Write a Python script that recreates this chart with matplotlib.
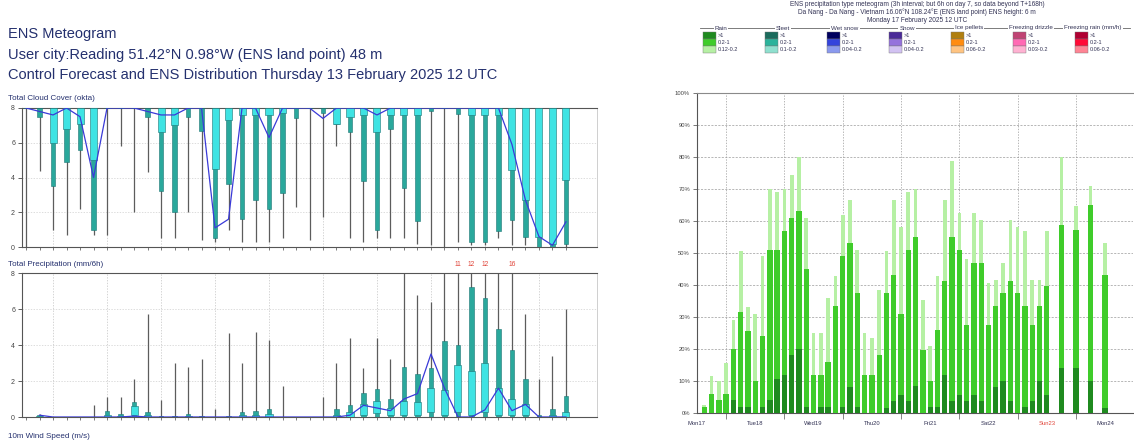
import numpy as np
import matplotlib
matplotlib.use('Agg')
import matplotlib.pyplot as plt
import matplotlib.transforms as mtransforms
from matplotlib.patches import Rectangle
from matplotlib.lines import Line2D

plt.rcParams['font.family'] = ['Liberation Sans', 'DejaVu Sans']

W, H = 1134, 446

# Left meteogram: 6-hourly steps from Thu 13 Feb 12 UTC (k = 0..40).
cc_steps = list(range(41))
cc_ctrl = [8, 7.8, 7.6, 8, 7.5, 4.0, 8, 8, 8, 7.8, 7.6, 7.6, 8, 8, 1.1, 1.6, 8, 8, 6.3, 8, 8,
           8, 7.4, 8, 8, 8, 7.6, 8, 8, 8, 8, 8, 8, 8, 8, 8, 5.9, 2.7, 0.6, 0.1, 1.45]
cc_min = [0, 4.4, 1.0, 0.7, 2.2, 0.7, 0.7, 5.8, 2.0, 4.3, 0.5, 0.5, 2.0, 0.4, 0.3, 1.0, 0.3, 0.3, 0.3, 0.5, 2.3,
          0.4, 1.7, 5.8, 0.5, 0.3, 0.5, 0.5, 0.5, 0.2, 0.1, 0.0, 0.3, 0.1, 0.1, 0.5, 0.1, 0.1, 0.0, 0.0, 0.0]
cc_p10 = [8, 7.5, 3.5, 4.9, 5.6, 1.0, 8, 8, 8, 7.5, 3.2, 2.0, 7.5, 6.7, 0.5, 3.6, 1.6, 2.7, 2.2, 3.1, 7.4,
          8, 7.7, 7.1, 6.6, 3.8, 1.0, 6.8, 3.4, 1.5, 7.85, 8, 7.65, 0.3, 0.3, 0.9, 1.55, 0.55, 0.0, 0.0, 0.2]
cc_p25 = [8, 8, 6.0, 6.8, 7.1, 5.0, 8, 8, 8, 8, 6.6, 7.0, 8, 8, 4.5, 7.3, 7.6, 7.6, 7.6, 7.7, 8,
          8, 8, 7.1, 7.5, 7.6, 6.6, 7.6, 7.6, 7.6, 8, 8, 8, 7.6, 7.6, 7.6, 4.45, 2.7, 0.6, 0.2, 3.85]
cc_max = [8, 8, 8, 8, 8, 8, 8, 8, 8, 8, 8, 8, 8, 8, 8, 8, 8, 8, 8, 8, 8,
          8, 8, 8, 8, 8, 8, 8, 8, 8, 8, 8, 8, 8, 8, 8, 8, 8, 8, 8, 8]

# 6h precipitation, steps k = 1..40
pr_steps = list(range(1, 41))
pr_max = [0.15, 0, 0, 0, 0.65, 1.1, 1.1, 2.1, 5.7, 0.95, 3.0, 2.8, 3.2, 0.45, 4.65, 3.0, 4.7, 4.3, 1.7, 0,
          0, 1.1, 3.0, 4.4, 2.7, 4.4, 3.2, 8.0, 6.8, 6.4, 8.0, 11, 12, 12, 8.0, 16, 5.7, 2.1, 3.4, 6.0]
pr_p90 = [0.1, 0, 0, 0, 0, 0.35, 0.15, 0.85, 0.3, 0.05, 0.05, 0.15, 0.05, 0, 0.05, 0.3, 0.35, 0.45, 0, 0,
          0, 0, 0.45, 0.65, 1.35, 1.55, 1.0, 2.8, 2.4, 2.7, 4.2, 4.0, 7.2, 6.6, 4.9, 3.75, 2.1, 0.1, 0.45, 1.15]
pr_p75 = [0.05, 0, 0, 0, 0, 0.1, 0.05, 0.6, 0.1, 0, 0, 0.05, 0, 0, 0, 0.1, 0.1, 0.15, 0, 0,
          0, 0, 0.1, 0.3, 0.7, 0.9, 0.5, 0.9, 0.85, 1.6, 1.5, 2.9, 2.55, 3.0, 1.6, 1.0, 0.75, 0, 0.1, 0.3]
pr_p25 = [0, 0, 0, 0, 0, 0, 0, 0.1, 0, 0, 0, 0, 0, 0, 0, 0, 0, 0, 0, 0,
          0, 0, 0, 0, 0.1, 0.2, 0.1, 0.1, 0.1, 0.3, 0.1, 0.3, 0.1, 0.3, 0.1, 0.1, 0.1, 0, 0, 0]
pr_ctrl = [0.1, 0, 0, 0, 0, 0, 0, 0.05, 0, 0, 0, 0, 0, 0, 0, 0, 0, 0, 0, 0,
           0, 0, 0, 0.1, 0.65, 0.5, 0.35, 1.0, 1.3, 3.5, 1.6, 0.0, 0.0, 0.4, 1.6, 0.35, 0.7, 0.0, 0.0, 0.0]
day_grid_steps = [2, 6, 10, 14, 18, 22, 26, 30, 34, 38]

# Right meteogram: probability (%) of rain, hours after Mon 17 Feb 12 UTC
pt_hours = [3, 6, 9, 12, 15, 18, 21, 24, 27, 30, 33, 36, 39, 42, 45, 48, 51, 54, 57, 60, 63, 66, 69, 72,
            75, 78, 81, 84, 87, 90, 93, 96, 99, 102, 105, 108, 111, 114, 117, 120, 123, 126, 129, 132,
            135, 138, 141, 144, 150, 156, 162, 168]
rain_gt01 = [2.6, 11.5, 10, 15.6, 29, 50.5, 33, 31, 49, 70, 69, 70, 74.5, 80, 61, 25, 25, 36, 42.7, 62,
             66.7, 51, 25, 23.5, 38.5, 50.5, 66.7, 58, 69, 70, 35.4, 20.8, 42.7, 66.7, 78.6, 62.5, 48,
             62.5, 60.4, 40.6, 41.7, 47, 60.4, 58, 56.8, 41.7, 41.7, 56.8, 80, 64.6, 70.8, 53]
rain_gt02 = [2, 6, 4, 6, 20, 31.5, 25.5, 10, 24, 51, 51, 57, 61, 63, 45, 12, 12, 16, 33.5, 49,
             53, 37.5, 12, 12, 18, 37.5, 43, 31, 51, 55, 19.8, 10, 25.8, 41.4, 55, 50.8, 27.6,
             47, 47, 27.6, 33.3, 37.5, 41.4, 37.5, 33.3, 27.6, 33.3, 39.6, 58.8, 57.3, 65, 43]
rain_gt1 = [0, 0, 0, 0, 4, 2, 2, 0, 2, 4, 10.5, 12, 18, 20, 2, 0, 2, 2, 0, 2,
            8, 2, 0, 0, 0, 1.5, 3.6, 5.7, 3.6, 8.3, 0, 2, 2, 12, 3.6, 5.7, 3.6,
            5.7, 3.6, 0, 8, 10, 3.6, 0, 2, 3.6, 10, 5.7, 14, 14, 10, 1.5]
day_labels = ['Mon17', 'Tue18', 'Wed19', 'Thu20', 'Fri21', 'Sat22', 'Sun23', 'Mon24']

ptype_names = ['Rain', 'Sleet', 'Wet snow', 'Snow', 'Ice pellets', 'Freezing drizzle', 'Freezing rain (mm/h)']
ptype_colors = [['#1f8a1f', '#3fcc2a', '#b6f0a4'],
                ['#1b6b5c', '#2bb39b', '#8fe0cf'],
                ['#00005e', '#3444dc', '#8a99ee'],
                ['#4a2a98', '#9572dc', '#d2c2f2'],
                ['#b07f10', '#ff8c10', '#ffc482'],
                ['#c04474', '#ff6ab4', '#ffb2d2'],
                ['#b00032', '#ff0a36', '#ff8494']]
ptype_ranges = [['>1', '0.2-1', '0.12-0.2'], ['>1', '0.2-1', '0.1-0.2'], ['>1', '0.2-1', '0.04-0.2'],
                ['>1', '0.2-1', '0.04-0.2'], ['>1', '0.2-1', '0.06-0.2'], ['>1', '0.2-1', '0.03-0.2'],
                ['>1', '0.2-1', '0.06-0.2']]

TXT = '#24306e'
CYAN = '#3fe3e3'
TEAL = '#2aa89c'
EDGE = '#1d7474'
CTRL = '#3a3ad8'


def px_axes(fig, left, top, right, bottom):
    return fig.add_axes([left / W, 1 - bottom / H, (right - left) / W, (bottom - top) / H])


def fig_text(fig, x, y, s, **kw):
    fig.text(x / W, 1 - y / H, s, **kw)


def style_meteo_axis(ax):
    ax.set_xlim(-0.3, 42.3)
    ax.set_ylim(0, 8)
    for side in ['left', 'bottom', 'top']:
        ax.spines[side].set_color('#555555')
        ax.spines[side].set_linewidth(0.8)
    ax.spines['right'].set_color('#c8c8c8')
    ax.spines['right'].set_linewidth(0.6)
    ax.set_yticks([0, 2, 4, 6, 8])
    ax.set_xticks(cc_steps)
    ax.set_xticklabels([])
    ax.tick_params(axis='y', labelsize=5, length=3, width=0.6, colors='#444444', pad=2)
    ax.tick_params(axis='x', length=2.5, width=0.6, colors='#666666')
    for v in [2, 4, 6]:
        ax.axhline(v, color='#cfcfcf', lw=0.5, ls=(0, (2, 2)), zorder=0)
    for k in day_grid_steps:
        ax.axvline(k, color='#c4c4c4', lw=0.5, ls=(0, (2, 2)), zorder=0)


def draw_boxes(ax, x, lo, p10, p25, p75, p90, hi):
    x = np.array(x, dtype=float)
    ax.vlines(x, lo, hi, color='#5c5c5c', lw=0.9, zorder=2)
    p10, p25, p75, p90 = map(np.array, (p10, p25, p75, p90))
    ax.bar(x, p90 - p10, bottom=p10, width=0.34, color=TEAL, edgecolor=EDGE, lw=0.4, zorder=3)
    ax.bar(x, p75 - p25, bottom=p25, width=0.52, color=CYAN, edgecolor=EDGE, lw=0.4, zorder=4)


fig = plt.figure(figsize=(W / 100, H / 100), dpi=100)

# ---- left: headers
fig_text(fig, 8, 34, 'ENS Meteogram', fontsize=10.5, color=TXT, va='center')
fig_text(fig, 8, 55, 'User city:Reading 51.42\u00b0N 0.98\u00b0W (ENS land point) 48 m', fontsize=10.5, color=TXT, va='center')
fig_text(fig, 8, 75, 'Control Forecast and ENS Distribution Thursday 13 February 2025 12 UTC', fontsize=10.5, color=TXT, va='center')
fig_text(fig, 8, 98, 'Total Cloud Cover (okta)', fontsize=5.8, color=TXT, va='center')
fig_text(fig, 8, 265, 'Total Precipitation (mm/6h)', fontsize=5.8, color=TXT, va='center')
fig_text(fig, 8, 437, '10m Wind Speed (m/s)', fontsize=5.8, color=TXT, va='center')

# ---- cloud cover
ax_cc = px_axes(fig, 22, 108, 597, 247)
style_meteo_axis(ax_cc)
draw_boxes(ax_cc, cc_steps, cc_min, cc_p10, cc_p25, cc_max, cc_max, cc_max)
ax_cc.plot(cc_steps, cc_ctrl, color=CTRL, lw=0.9, zorder=5)

# ---- precipitation
ax_pr = px_axes(fig, 22, 273, 597, 417)
style_meteo_axis(ax_pr)
zeros = np.zeros(len(pr_steps))
draw_boxes(ax_pr, pr_steps, zeros, zeros, pr_p25, pr_p75, pr_p90, pr_max)
ax_pr.plot(pr_steps, pr_ctrl, color=CTRL, lw=0.9, zorder=5)
trans = mtransforms.blended_transform_factory(ax_pr.transData, ax_pr.transAxes)
for k, v in zip(pr_steps, pr_max):
    if v > 8:
        ax_pr.text(k, 1.035, '%d' % v, transform=trans, ha='center', va='bottom', fontsize=4.8, color='#e0453a')

# ---- right: precipitation type
fig_text(fig, 917, 5, 'ENS precipitation type meteogram (3h interval; but 6h on day 7, so data beyond T+168h)',
         fontsize=4.7, color='#333355', ha='center', va='center')
fig_text(fig, 917, 12.5, 'Da Nang - Da Nang - Vietnam 16.06\u00b0N 108.24\u00b0E (ENS land point) ENS height: 6 m',
         fontsize=4.7, color='#333355', ha='center', va='center')
fig_text(fig, 917, 20, 'Monday 17 February 2025 12 UTC', fontsize=4.7, color='#333355', ha='center', va='center')

fig.add_artist(Line2D([700 / W, 1130 / W], [1 - 28 / H, 1 - 28 / H], color='#666666', lw=0.6))
for i, name in enumerate(ptype_names):
    x0 = 703 + 62 * i
    fig_text(fig, x0 + 18, 28, name, fontsize=4.5, color='#333355', ha='center', va='center',
             bbox=dict(boxstyle='square,pad=0.15', fc='white', ec='none'))
    for j in range(3):
        y0 = 32 + 7 * j
        fig.add_artist(Rectangle((x0 / W, 1 - (y0 + 6.5) / H), 13 / W, 6.5 / H, transform=fig.transFigure,
                                 facecolor=ptype_colors[i][j], edgecolor='#777777', lw=0.3))
        fig_text(fig, x0 + 15, y0 + 3.3, ptype_ranges[i][j], fontsize=4.0, color='#333355', va='center')

ax_pt = px_axes(fig, 697, 93, 1133, 413)
ax_pt.set_xlim(0, 179.5)
ax_pt.set_ylim(0, 100)
ax_pt.bar(pt_hours, rain_gt01, width=1.5, color=ptype_colors[0][2], zorder=2)
ax_pt.bar(pt_hours, rain_gt02, width=2.2, color=ptype_colors[0][1], zorder=3)
ax_pt.bar(pt_hours, rain_gt1, width=2.2, color=ptype_colors[0][0], zorder=4)
for v in range(10, 100, 10):
    ax_pt.axhline(v, color='#9a9a9a', lw=0.5, ls=(0, (3, 2)), zorder=1)
grid_hours = [12, 36, 60, 84, 108, 132, 156]
for h in grid_hours:
    ax_pt.axvline(h, color='#9a9a9a', lw=0.5, ls=(0, (2, 2)), zorder=1)
ax_pt.spines['right'].set_visible(False)
ax_pt.spines['top'].set_color('#8a8a8a')
ax_pt.spines['top'].set_linewidth(0.8)
ax_pt.spines['left'].set_color('#555555')
ax_pt.spines['bottom'].set_color('#555555')
ax_pt.set_yticks(range(0, 101, 10))
ax_pt.set_yticklabels(['%d%%' % v for v in range(0, 101, 10)])
ax_pt.tick_params(axis='y', labelsize=4.2, length=3, width=0.5, colors='#444444', pad=2)
ax_pt.set_xticks(grid_hours)
ax_pt.set_xticklabels([])
ax_pt.tick_params(axis='x', which='major', length=4, width=0.5, colors='#555555')
ax_pt.set_xticks([24 * i for i in range(len(day_labels))], minor=True)
ax_pt.set_xticklabels(day_labels, minor=True)
ax_pt.tick_params(axis='x', which='minor', length=0, labelsize=4.2, labelcolor='#333355', pad=6)
for lab in ax_pt.get_xticklabels(minor=True):
    if lab.get_text() == 'Sun23':
        lab.set_color('#e0453a')

fig.savefig('out.png', dpi=100)
